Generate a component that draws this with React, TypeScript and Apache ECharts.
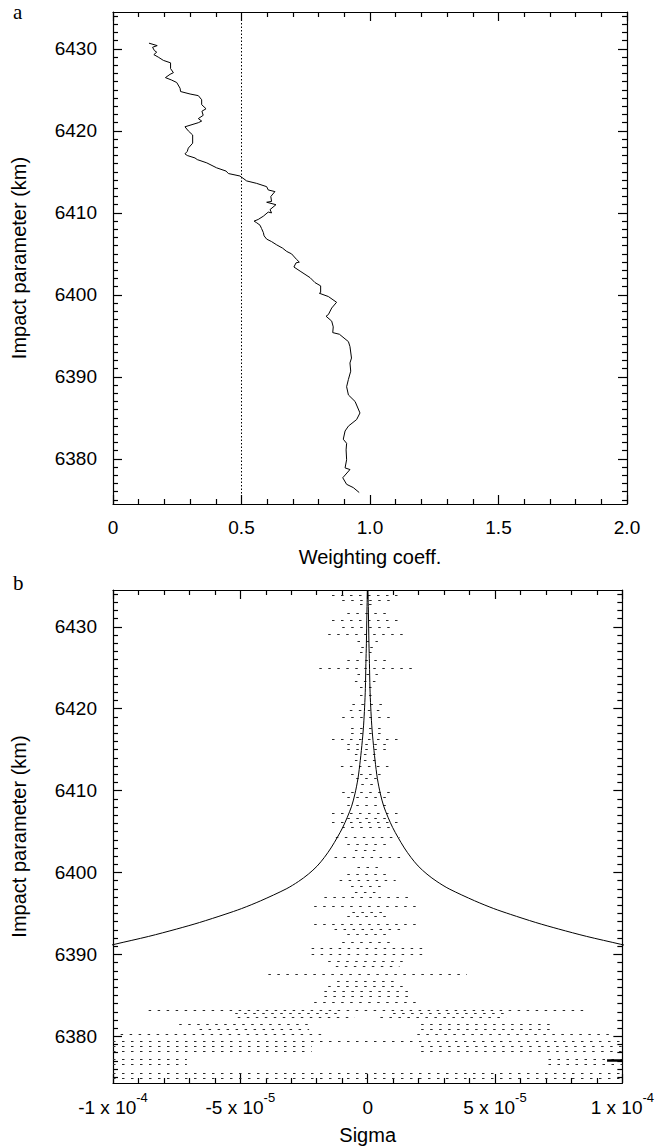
import React, { useEffect, useRef } from "react";
import * as echarts from "echarts";

// ---- Panel a: weighting coefficient profile ----
const weightCoeff = [
  0.140, 0.172, 0.154, 0.161, 0.170, 0.159, 0.176, 0.196, 0.224, 0.224, 0.235, 0.222, 0.204, 0.228,
  0.248, 0.261, 0.263, 0.300, 0.332, 0.345, 0.345, 0.362, 0.346, 0.351, 0.332, 0.345, 0.332, 0.280,
  0.293, 0.310, 0.310, 0.293, 0.289, 0.280, 0.289, 0.319, 0.328, 0.365, 0.403, 0.440, 0.449, 0.494,
  0.520, 0.559, 0.598, 0.604, 0.630, 0.614, 0.617, 0.598, 0.634, 0.611, 0.617, 0.604, 0.585, 0.565,
  0.549, 0.559, 0.572, 0.578, 0.585, 0.588, 0.598, 0.617, 0.637, 0.660, 0.676, 0.695, 0.715, 0.725,
  0.712, 0.704, 0.728, 0.767, 0.786, 0.808, 0.808, 0.803, 0.838, 0.870, 0.851, 0.838, 0.829, 0.851,
  0.857, 0.855, 0.881, 0.916, 0.922, 0.928, 0.922, 0.925, 0.916, 0.909, 0.916, 0.942, 0.961, 0.948,
  0.916, 0.903, 0.896, 0.909, 0.907, 0.909, 0.903, 0.922, 0.894, 0.909, 0.935, 0.958,
];
const weightHeight = [
  6430.7, 6430.4, 6430.2, 6429.8, 6429.6, 6429.3, 6429.0, 6428.6, 6428.3, 6427.6, 6427.1, 6426.9, 6426.5, 6426.2,
  6425.9, 6425.2, 6424.8, 6424.5, 6424.3, 6423.8, 6423.2, 6422.7, 6422.4, 6421.9, 6421.5, 6421.2, 6421.0, 6420.5,
  6420.0, 6419.5, 6418.5, 6417.9, 6417.5, 6417.2, 6417.0, 6416.7, 6416.5, 6416.1, 6415.5, 6415.1, 6414.8, 6414.5,
  6413.9, 6413.6, 6413.2, 6412.8, 6412.6, 6412.0, 6411.4, 6411.3, 6411.0, 6410.4, 6410.0, 6410.1, 6409.6, 6409.2,
  6409.0, 6408.8, 6408.5, 6408.1, 6407.6, 6407.2, 6406.8, 6406.5, 6406.1, 6405.7, 6405.3, 6405.0, 6404.3, 6404.0,
  6403.9, 6403.4, 6402.9, 6402.1, 6401.5, 6401.1, 6400.3, 6400.2, 6399.8, 6399.1, 6398.4, 6397.6, 6397.4, 6396.8,
  6396.1, 6395.4, 6395.2, 6394.3, 6393.7, 6392.3, 6391.7, 6390.7, 6389.7, 6388.8, 6387.8, 6387.0, 6385.6, 6384.8,
  6384.0, 6383.4, 6382.4, 6381.9, 6381.1, 6379.9, 6378.9, 6378.7, 6377.7, 6376.9, 6376.5, 6375.9,
];
const thresholdCoeff = 0.5;

const coeffTicks = [0, 0.5, 1.0, 1.5, 2.0];
const coeffMinorTicks = [0.1, 0.2, 0.3, 0.4, 0.6, 0.7, 0.8, 0.9, 1.1, 1.2, 1.3, 1.4, 1.6, 1.7, 1.8, 1.9];
const heightTicks = [6380, 6390, 6400, 6410, 6420, 6430];
const heightMinorTicks = [
  6375, 6376, 6377, 6378, 6379, 6381, 6382, 6383, 6384, 6385, 6386, 6387, 6388, 6389,
  6391, 6392, 6393, 6394, 6395, 6396, 6397, 6398, 6399, 6401, 6402, 6403, 6404, 6405,
  6406, 6407, 6408, 6409, 6411, 6412, 6413, 6414, 6415, 6416, 6417, 6418, 6419, 6421,
  6422, 6423, 6424, 6425, 6426, 6427, 6428, 6429, 6431, 6432, 6433, 6434,
];

// ---- Panel b: sigma envelope and noise rows ----
const envelopeHeight = [
  6434.5, 6431.7, 6428.0, 6425.5, 6422.5, 6420.2, 6418.0, 6416.1, 6413.7, 6411.5, 6409.6,
  6408.1, 6406.75, 6405.5, 6404.3, 6403.0, 6401.85, 6400.8, 6399.8, 6398.9, 6398.0,
  6396.55, 6395.6, 6394.9, 6393.9, 6393.1, 6392.2, 6391.25, 6390.6,
];
// sigma in units of 1e-5
const envelopeSigmaE5 = [
  0.01, 0.03, 0.05, 0.07, 0.09, 0.12, 0.16, 0.21, 0.29, 0.38, 0.5,
  0.63, 0.8, 0.98, 1.19, 1.44, 1.7, 1.98, 2.33, 2.72, 3.2,
  4.2, 4.95, 5.6, 6.6, 7.5, 8.6, 9.92, 10.8,
];

// dotted rows: [height, left sigma, right sigma], sigma in units of 1e-5
const noiseRows: [number, number, number][] = [
  [6433.9, -1.4, 1.4], [6433.3, -1.0, 1.0], [6432.7, -0.3, 0.3], [6431.6, -0.8, 0.8],
  [6430.8, -1.4, 1.4], [6430.0, -1.0, 1.0], [6429.1, -1.55, 1.55], [6428.2, -0.4, 0.4],
  [6427.5, -0.25, 0.25], [6426.9, -0.3, 0.3], [6425.9, -0.8, 0.8], [6424.9, -1.9, 1.9],
  [6424.2, -0.4, 0.4], [6423.3, -0.5, 0.5], [6422.6, -0.3, 0.3], [6421.6, -0.3, 0.3],
  [6420.6, -0.6, 0.6], [6419.8, -0.7, 0.7], [6419.0, -1.0, 1.0], [6417.6, -0.65, 0.65],
  [6417.0, -0.65, 0.65], [6416.3, -1.4, 1.4], [6415.7, -0.8, 0.8], [6415.0, -0.8, 0.8],
  [6414.4, -0.5, 0.5], [6413.7, -0.5, 0.5], [6412.95, -1.05, 1.05], [6412.05, -0.65, 0.65],
  [6411.5, -0.45, 0.45], [6410.8, -0.25, 0.25], [6409.8, -1.0, 1.0], [6409.2, -0.8, 0.8],
  [6408.2, -0.8, 0.8], [6407.2, -1.4, 1.4], [6406.6, -0.8, 0.8], [6406.1, -1.4, 1.4],
  [6405.5, -1.0, 1.0], [6404.3, -1.25, 1.25], [6403.5, -0.8, 0.8], [6402.7, -0.5, 0.5],
  [6401.85, -1.3, 1.3], [6400.7, -0.4, 0.4], [6399.8, -0.8, 0.8], [6399.0, -1.1, 1.1],
  [6398.3, -0.65, 0.65], [6397.6, -0.5, 0.5], [6397.0, -1.7, 1.7], [6395.9, -2.1, 2.1],
  [6395.2, -0.6, 0.6], [6394.7, -0.8, 0.8], [6393.7, -2.1, 2.1], [6393.1, -1.3, 1.3],
  [6392.5, -0.8, 0.8], [6391.45, -1.0, 1.0], [6390.8, -2.2, 2.2], [6390.0, -2.2, 2.2],
  [6389.2, -1.55, 1.55], [6388.6, -1.25, 1.25], [6387.6, -3.9, 3.9], [6386.75, -1.2, 1.2],
  [6386.15, -1.55, 1.55], [6385.5, -1.7, 1.7], [6384.9, -1.7, 1.7], [6384.1, -2.1, 2.1],
  [6383.2, -8.6, 8.7],
  [6382.8, -5.2, -1.0], [6382.8, 1.0, 5.5],
  [6382.3, -5.1, -0.5], [6382.3, 0.5, 5.45],
  [6381.5, -7.4, -2.3], [6381.5, 2.1, 7.3],
  [6380.85, -6.6, -2.3], [6380.85, 2.1, 7.2],
  [6380.2, -9.7, -1.8], [6380.2, 1.95, 9.5],
  [6379.4, -10, 10],
  [6378.8, -10, -2.2], [6378.8, 2.1, 10],
  [6378.2, -10, -2.2], [6378.2, 2.1, 10],
  [6377.2, -10, -7.1], [6377.2, 7.1, 10],
  [6376.6, -10, -7.1], [6376.6, 7.1, 10],
  [6375.5, -10, 10], [6374.9, -10, 10],
];
const solidMark: [number, number, number] = [6377.1, 9.4, 10];

const sigmaTickMantissa = [-1, -5, 0, 5, 1];
const sigmaTickExponent = [-4, -5, 0, -5, -4];
const sigmaMinorE5 = [-9, -8, -7, -6, -4, -3, -2, -1, 1, 2, 3, 4, 6, 7, 8, 9];

const FONT = '"Liberation Sans", Arial, Helvetica, sans-serif';
const INK = "#000";

const sigmaTicks = sigmaTickMantissa.map((m, i) => (m === 0 ? 0 : m * Math.pow(10, sigmaTickExponent[i])));

function sigmaLabel(v: number): string {
  let best = 0;
  sigmaTicks.forEach((t, i) => {
    if (Math.abs(t - v) < Math.abs(sigmaTicks[best] - v)) best = i;
  });
  const m = sigmaTickMantissa[best];
  if (m === 0) return "{m|0}";
  return `{m|${m} x 10}{s|${sigmaTickExponent[best]}}`;
}

const labelStyle = { color: INK, fontSize: 19, fontFamily: FONT };
const nameStyle = { color: INK, fontSize: 20, fontFamily: FONT };

function frameX(
  gridIndex: number, min: number, max: number, majors: number[], minors: number[],
  formatter: (v: number) => string, name: string, nameGap: number, margin: number, rich?: any
) {
  const line = { show: true, onZero: false, lineStyle: { color: INK, width: 1.2 } };
  const noLine = { show: false, onZero: false };
  const base = { type: "value", gridIndex, min, max, splitLine: { show: false } };
  return [
    {
      ...base, position: "bottom", axisLine: line,
      axisTick: { show: true, inside: true, length: 9, customValues: majors, lineStyle: { color: INK, width: 1.2 } },
      axisLabel: { show: true, customValues: majors, formatter, margin, ...labelStyle, rich },
      name, nameLocation: "middle", nameGap,
      nameTextStyle: { ...nameStyle },
    },
    {
      ...base, position: "bottom", axisLine: noLine, axisLabel: { show: false },
      axisTick: { show: true, inside: true, length: 5, customValues: minors, lineStyle: { color: INK, width: 1.2 } },
    },
    {
      ...base, position: "top", axisLine: line, axisLabel: { show: false },
      axisTick: { show: true, inside: true, length: 9, customValues: majors, lineStyle: { color: INK, width: 1.2 } },
    },
    {
      ...base, position: "top", axisLine: noLine, axisLabel: { show: false },
      axisTick: { show: true, inside: true, length: 5, customValues: minors, lineStyle: { color: INK, width: 1.2 } },
    },
  ];
}

function frameY(gridIndex: number, min: number, max: number) {
  const line = { show: true, onZero: false, lineStyle: { color: INK, width: 1.2 } };
  const noLine = { show: false, onZero: false };
  const base = { type: "value", gridIndex, min, max, splitLine: { show: false } };
  return [
    {
      ...base, position: "left", axisLine: line,
      axisTick: { show: true, inside: true, length: 9, customValues: heightTicks, lineStyle: { color: INK, width: 1.2 } },
      axisLabel: { show: true, customValues: heightTicks, formatter: (v: number) => String(v), margin: 16, ...labelStyle },
      name: "Impact parameter (km)", nameLocation: "middle", nameGap: 84, nameRotate: 90,
      nameTextStyle: { ...nameStyle },
    },
    {
      ...base, position: "left", axisLine: noLine, axisLabel: { show: false },
      axisTick: { show: true, inside: true, length: 5, customValues: heightMinorTicks, lineStyle: { color: INK, width: 1.2 } },
    },
    {
      ...base, position: "right", axisLine: line, axisLabel: { show: false },
      axisTick: { show: true, inside: true, length: 9, customValues: heightTicks, lineStyle: { color: INK, width: 1.2 } },
    },
    {
      ...base, position: "right", axisLine: noLine, axisLabel: { show: false },
      axisTick: { show: true, inside: true, length: 5, customValues: heightMinorTicks, lineStyle: { color: INK, width: 1.2 } },
    },
  ];
}

export default function App() {
  const ref = useRef<HTMLDivElement>(null);

  useEffect(() => {
    document.body.style.margin = "0";
    if (!ref.current) return;
    const chart = echarts.init(ref.current, null, { renderer: "svg" });

    const E5 = 1e-5;
    const topMin = 6374.5, topMax = 6434.5;
    const botMin = 6374.3, botMax = 6434.5;

    const xAxes = [
      ...frameX(0, 0, 2, coeffTicks, coeffMinorTicks,
        (v: number) => (v === 0 ? "0" : v.toFixed(1)), "Weighting coeff.", 43, 14),
      ...frameX(1, -1e-4, 1e-4, sigmaTicks, sigmaMinorE5.map((v) => v * E5), sigmaLabel, "Sigma", 42, 8, {
        m: { fontSize: 19, fontFamily: FONT, color: INK, lineHeight: 26, verticalAlign: "bottom" },
        s: { fontSize: 13, fontFamily: FONT, color: INK, lineHeight: 14, verticalAlign: "top" },
      }),
    ];
    const yAxes = [...frameY(0, topMin, topMax), ...frameY(1, botMin, botMax)];

    const option: any = {
      animation: false,
      backgroundColor: "#fff",
      grid: [
        { left: 113, top: 12, width: 514, height: 492 },
        { left: 113, top: 590, width: 514, height: 493 },
      ],
      xAxis: xAxes,
      yAxis: yAxes,
      graphic: [
        { type: "text", left: 13, top: 1, style: { text: "a", font: '21px "Liberation Serif", serif', fill: INK } },
        { type: "text", left: 13, top: 572, style: { text: "b", font: '21px "Liberation Serif", serif', fill: INK } },
      ],
      series: [
        {
          type: "line", xAxisIndex: 0, yAxisIndex: 0, showSymbol: false, silent: true,
          data: [[thresholdCoeff, topMin], [thresholdCoeff, topMax]],
          lineStyle: { color: INK, width: 1, type: [1.5, 2] },
        },
        {
          type: "line", xAxisIndex: 0, yAxisIndex: 0, showSymbol: false, silent: true,
          data: weightCoeff.map((c, i) => [c, weightHeight[i]]),
          lineStyle: { color: INK, width: 1 },
        },
        {
          type: "lines", coordinateSystem: "cartesian2d", xAxisIndex: 4, yAxisIndex: 4, silent: true,
          data: noiseRows.map(([h, a, b]) => ({ coords: [[a * E5, h], [b * E5, h]] })),
          lineStyle: { color: "#2a2a2a", width: 1.1, type: [2.5, 6.5], opacity: 1 },
        },
        {
          type: "lines", coordinateSystem: "cartesian2d", xAxisIndex: 4, yAxisIndex: 4, silent: true,
          data: [{ coords: [[solidMark[1] * E5, solidMark[0]], [solidMark[2] * E5, solidMark[0]]] }],
          lineStyle: { color: INK, width: 2.5, opacity: 1 },
        },
        {
          type: "line", xAxisIndex: 4, yAxisIndex: 4, showSymbol: false, silent: true, clip: true,
          smooth: 0.3,
          data: envelopeSigmaE5.map((s, i) => [-s * E5, envelopeHeight[i]]),
          lineStyle: { color: INK, width: 1 },
        },
        {
          type: "line", xAxisIndex: 4, yAxisIndex: 4, showSymbol: false, silent: true, clip: true,
          smooth: 0.3,
          data: envelopeSigmaE5.map((s, i) => [s * E5, envelopeHeight[i]]),
          lineStyle: { color: INK, width: 1 },
        },
      ],
    };
    chart.setOption(option);
    return () => chart.dispose();
  }, []);

  return <div ref={ref} style={{ width: 657, height: 1148 }} />;
}
